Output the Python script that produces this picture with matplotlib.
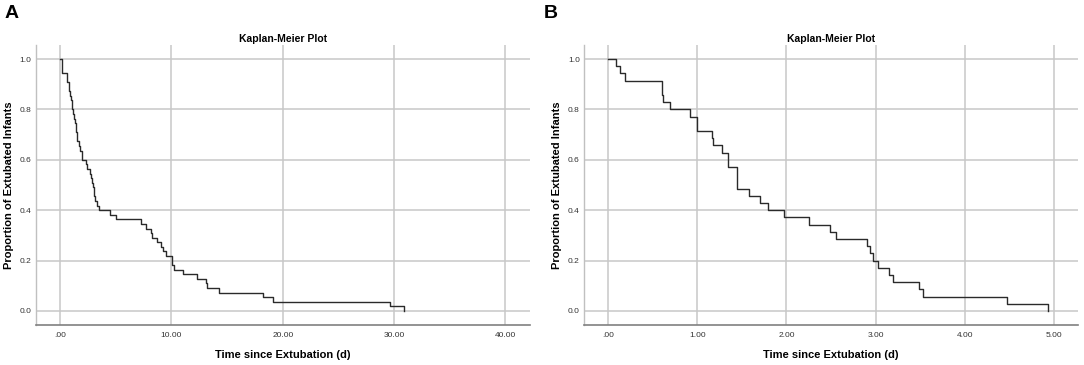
"""Two Kaplan-Meier step curves, SPSS style."""
import matplotlib
matplotlib.use("Agg")
import matplotlib.pyplot as plt
from matplotlib.ticker import FuncFormatter

plt.rcParams["font.family"] = ["Liberation Sans", "DejaVu Sans"]

# Panel A: event times (days) and survival after each event
time_a = [0.0, 0.2, 0.63, 0.75, 0.81, 0.9, 0.95, 1.02, 1.1, 1.18, 1.25, 1.3,
          1.38, 1.42, 1.47, 1.55, 1.68, 1.8, 1.92, 2.0, 2.28, 2.4, 2.67, 2.8,
          2.88, 2.95, 3.0, 3.05, 3.12, 3.3, 3.5, 4.47, 5.0, 7.3, 7.7, 8.15,
          8.27, 8.66, 9.05, 9.2, 9.5, 10.06, 10.2, 11.0, 12.3, 13.1, 13.2,
          14.3, 18.2, 19.1, 29.6, 30.9]
surv_a = [1.0, 0.945, 0.909, 0.891, 0.873, 0.855, 0.836, 0.818, 0.800, 0.782,
          0.764, 0.745, 0.727, 0.709, 0.691, 0.673, 0.655, 0.636, 0.618, 0.600,
          0.582, 0.564, 0.545, 0.527, 0.509, 0.491, 0.473, 0.455, 0.436, 0.418,
          0.400, 0.382, 0.364, 0.345, 0.327, 0.309, 0.291, 0.273, 0.255, 0.236,
          0.218, 0.182, 0.164, 0.145, 0.127, 0.109, 0.091, 0.073, 0.055, 0.036,
          0.018, 0.0]

# Panel B
time_b = [0.0, 0.086, 0.13, 0.187, 0.60, 0.62, 0.70, 0.92, 1.00, 1.17, 1.18,
          1.28, 1.34, 1.45, 1.58, 1.70, 1.79, 1.97, 2.25, 2.49, 2.56, 2.91,
          2.94, 2.97, 3.03, 3.15, 3.20, 3.49, 3.53, 4.47, 4.93]
surv_b = [1.0, 0.971, 0.943, 0.914, 0.857, 0.829, 0.800, 0.771, 0.714, 0.686,
          0.657, 0.629, 0.571, 0.486, 0.457, 0.429, 0.400, 0.371, 0.343, 0.314,
          0.286, 0.257, 0.229, 0.200, 0.171, 0.143, 0.114, 0.086, 0.057, 0.029,
          0.0]

xticks_a = [0, 10, 20, 30, 40]
xticks_b = [0, 1, 2, 3, 4, 5]
yticks = [0.0, 0.2, 0.4, 0.6, 0.8, 1.0]


def spss_fmt(v, _pos=None):
    s = f"{v:.2f}"
    return s[1:] if s.startswith("0") else s


def draw(ax, t, s, xticks, xlim):
    ax.step(t, s, where="post", color="#2a2a2a", lw=1.0, zorder=3)
    ax.set_xlim(*xlim)
    ax.set_ylim(-0.056, 1.056)
    ax.set_xticks(xticks)
    ax.set_yticks(yticks)
    ax.xaxis.set_major_formatter(FuncFormatter(spss_fmt))
    ax.yaxis.set_major_formatter(FuncFormatter(lambda v, p: f"{v:.1f}"))
    ax.grid(True, color="#c8c8c8", lw=1.1, zorder=0)
    ax.tick_params(length=0, labelsize=6, labelcolor="#333333")
    ax.tick_params(axis="y", pad=3)
    ax.tick_params(axis="x", pad=5)
    for side in ("top", "right"):
        ax.spines[side].set_visible(False)
    ax.spines["left"].set_color("#c0c0c0")
    ax.spines["bottom"].set_color("#808080")
    ax.spines["left"].set_linewidth(1.0)
    ax.spines["bottom"].set_linewidth(1.2)
    ax.set_title("Kaplan-Meier Plot", fontsize=7.5, fontweight="bold", pad=2)
    ax.set_xlabel("Time since Extubation (d)", fontsize=8, fontweight="bold", labelpad=8)
    ax.set_ylabel("Proportion of Extubated Infants", fontsize=8, fontweight="bold")
    ax.yaxis.set_label_coords(-0.044, 0.5)


fig = plt.figure(figsize=(10.84, 3.65), dpi=100)
ax_a = fig.add_axes([0.0329, 0.1096, 0.456, 0.767])
ax_b = fig.add_axes([0.5387, 0.1096, 0.4557, 0.767])

draw(ax_a, time_a, surv_a, xticks_a, (-2.2, 42.2))
draw(ax_b, time_b, surv_b, xticks_b, (-0.27, 5.27))

fig.text(0.004, 0.985, "A", fontsize=14, fontweight="bold", va="top", ha="left")
fig.text(0.502, 0.985, "B", fontsize=14, fontweight="bold", va="top", ha="left")

fig.savefig("out.png", dpi=100)
